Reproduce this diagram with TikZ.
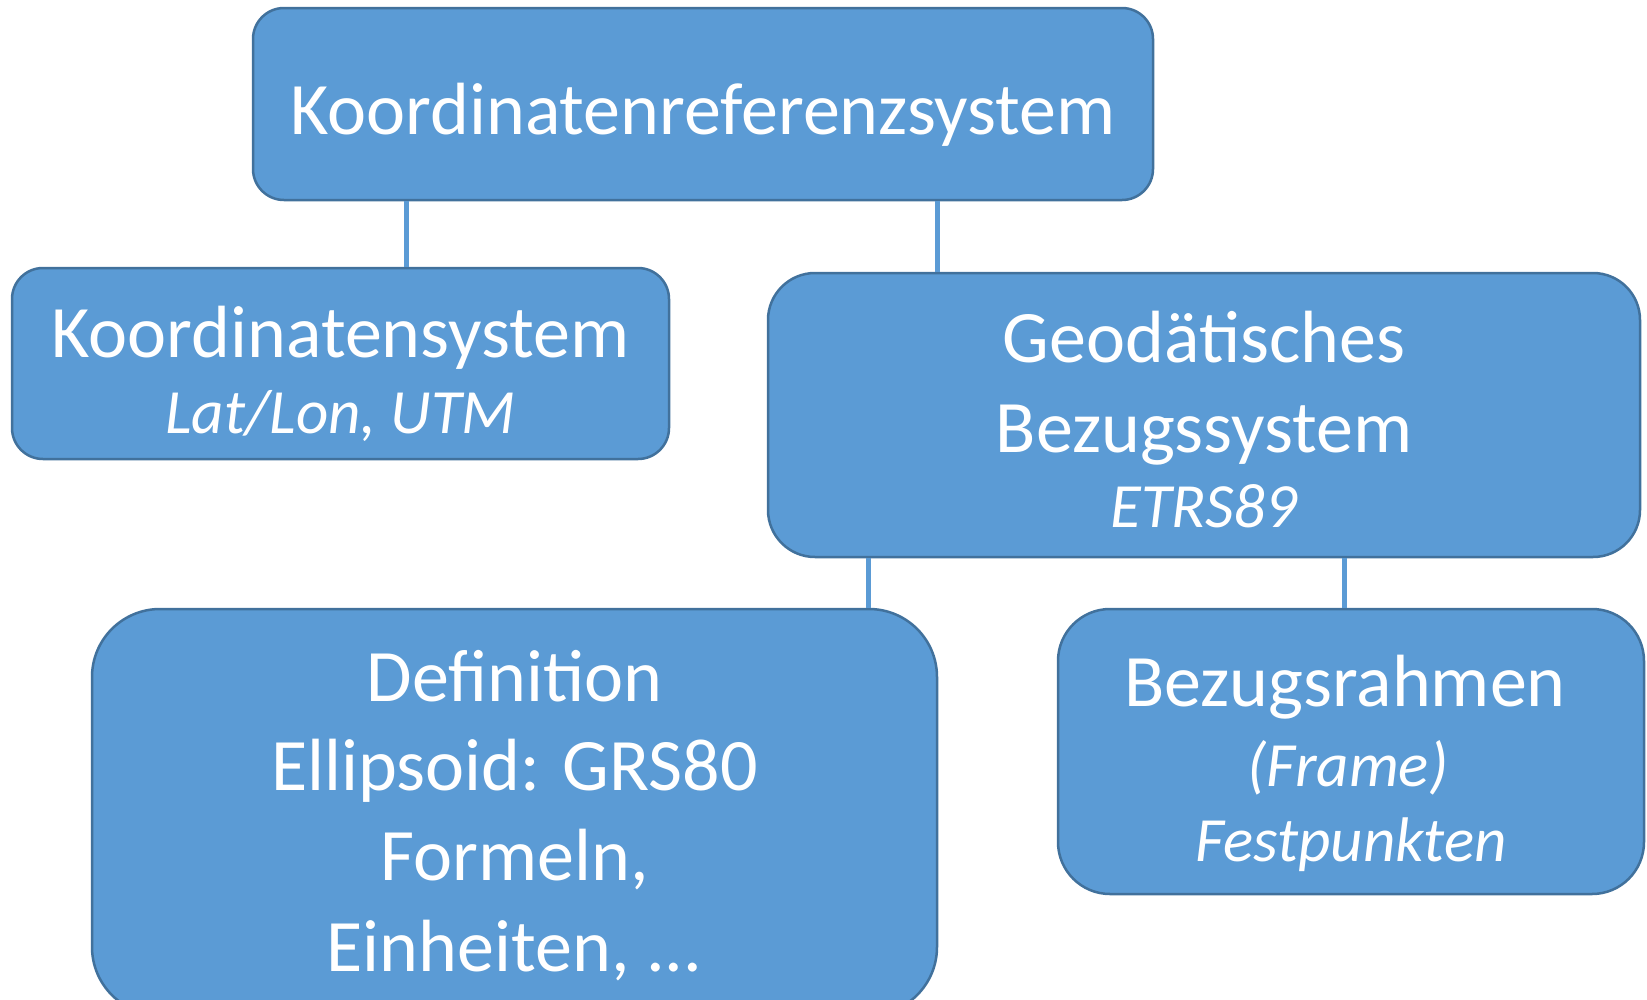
\documentclass[tikz,border=0pt]{standalone}
\usepackage{fontspec}
\setmainfont{Carlito}
\definecolor{boxfill}{HTML}{5B9BD5}
\definecolor{boxline}{HTML}{41719C}
\begin{document}
\begin{tikzpicture}[x=1pt,y=-1pt,
  box/.style={rectangle, draw=boxline, line width=2.5pt, fill=boxfill, inner sep=0pt},
  conn/.style={draw=boxfill, line width=5pt},
  txt/.style={anchor=base, text=white, inner sep=0pt, font=\fontsize{74}{88}\selectfont},
  itxt/.style={txt, font=\fontsize{63}{76}\selectfont\itshape}]
\useasboundingbox (0,0) rectangle (1647,999);
\node[box, rounded corners=31pt, minimum width=900pt, minimum height=192pt] (top) at (703,104) {};
\node[box, rounded corners=31pt, minimum width=657pt, minimum height=191pt] (ks) at (340.5,363.5) {};
\node[box, rounded corners=47pt, minimum width=872pt, minimum height=284pt] (gb) at (1204,415) {};
\node[box, rounded corners=68pt, minimum width=845pt, minimum height=406pt] (def) at (514.5,812) {};
\node[box, rounded corners=52pt, minimum width=586pt, minimum height=285pt] (br) at (1351,751.5) {};
\coordinate (c1) at (406.5,0);
\coordinate (c2) at (937,0);
\coordinate (c3) at (868,0);
\coordinate (c4) at (1344.5,0);
\draw[conn] (top.south -| c1) -- (ks.north -| c1);
\draw[conn] (top.south -| c2) -- (gb.north -| c2);
\draw[conn] (gb.south -| c3) -- (def.north -| c3);
\draw[conn] (gb.south -| c4) -- (br.north -| c4);
\node[txt] (t1) at (703,134) {Koordinatenreferenzsystem};
\node[txt] (t2) at (340.5,357) {Koordinatensystem};
\node[itxt] (t3) at (340.5,433) {Lat/Lon, UTM};
\node[txt] (t4) at (1204,362) {Geodätisches};
\node[txt] (t5) at (1204,452) {Bezugssystem};
\node[itxt] (t6) at (1204,527) {ETRS89};
\node[txt] (t7) at (514.5,701) {Definition};
\node[txt] (t8) at (514.5,790) {Ellipsoid: GRS80};
\node[txt] (t9) at (514.5,880) {Formeln,};
\node[txt] (t10) at (514.5,971) {Einheiten, ...};
\node[txt] (t11) at (1345,706) {Bezugsrahmen};
\node[itxt] (t12) at (1348,786) {(Frame)};
\node[itxt] (t13) at (1351,861) {Festpunkten};
\end{tikzpicture}
\end{document}
